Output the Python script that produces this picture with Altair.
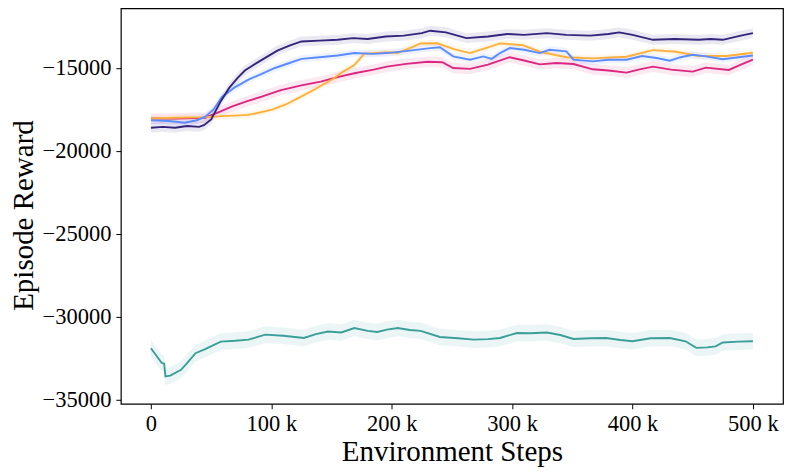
import altair as alt
import pandas as pd

# steps in thousands, mean episode reward, band half-width
purple_steps = [0, 10, 20, 30, 40, 44, 50, 58, 65, 72, 78, 90, 105, 115, 125, 140, 155, 168, 180, 195, 210, 225, 232, 245, 262, 280, 296, 310, 329, 345, 365, 380, 389, 400, 417, 435, 455, 465, 475, 490, 500]
purple_vals = [-18600, -18550, -18600, -18500, -18550, -18450, -18100, -17000, -16200, -15600, -15150, -14600, -13950, -13650, -13400, -13350, -13300, -13200, -13250, -13100, -13050, -12900, -12750, -12850, -13200, -13100, -12950, -13000, -12900, -13000, -13050, -12950, -12850, -13000, -13300, -13250, -13300, -13250, -13300, -13050, -12900]

blue_steps = [0, 15, 28, 38, 45, 52, 59, 70, 81, 92, 103, 115, 125, 140, 155, 169, 185, 196, 215, 232, 240, 251, 265, 276, 283, 290, 298, 310, 323, 331, 345, 351, 367, 380, 395, 408, 420, 431, 440, 450, 461, 475, 488, 500]
blue_vals = [-18150, -18200, -18300, -18150, -17950, -17500, -16750, -16150, -15700, -15350, -15000, -14700, -14450, -14350, -14250, -14100, -14150, -14100, -13950, -13800, -13750, -14300, -14500, -14300, -14450, -14100, -13800, -13900, -14100, -13900, -14000, -14500, -14600, -14500, -14500, -14280, -14400, -14560, -14350, -14200, -14300, -14470, -14350, -14250]

magenta_steps = [0, 20, 45, 55, 67, 80, 92, 108, 125, 141, 155, 169, 185, 196, 212, 230, 242, 251, 265, 280, 298, 310, 323, 337, 351, 367, 380, 395, 405, 417, 432, 450, 461, 480, 490, 500]
magenta_vals = [-18050, -18050, -18000, -17700, -17330, -17000, -16730, -16330, -16050, -15820, -15550, -15320, -15100, -14920, -14750, -14620, -14650, -15000, -15050, -14800, -14350, -14550, -14780, -14700, -14760, -15080, -15150, -15280, -15100, -14920, -15100, -15220, -14980, -15120, -14800, -14500]

orange_steps = [0, 20, 45, 60, 81, 100, 112, 122, 137, 152, 160, 169, 177, 196, 205, 215, 224, 238, 251, 265, 278, 290, 309, 323, 345, 367, 395, 417, 436, 455, 478, 500]
orange_vals = [-18050, -18000, -17960, -17900, -17830, -17530, -17200, -16830, -16250, -15620, -15200, -14820, -14150, -14050, -14100, -13800, -13520, -13510, -13850, -14100, -13800, -13520, -13620, -14020, -14350, -14420, -14320, -13920, -14020, -14280, -14280, -14080]

teal_steps = [0, 5, 9, 11, 12, 16, 25, 30, 37, 45, 58, 70, 81, 95, 110, 127, 137, 147, 158, 169, 180, 188, 196, 205, 215, 224, 240, 255, 268, 280, 290, 304, 315, 329, 340, 351, 365, 378, 390, 400, 415, 431, 444, 453, 462, 469, 475, 488, 500]
teal_vals = [-31900, -32400, -32790, -32830, -33600, -33550, -33200, -32800, -32200, -31950, -31500, -31450, -31380, -31080, -31150, -31280, -31050, -30890, -30950, -30680, -30850, -30920, -30780, -30680, -30800, -30850, -31220, -31300, -31380, -31350, -31280, -30980, -31000, -30950, -31100, -31340, -31300, -31280, -31400, -31480, -31300, -31280, -31480, -31880, -31850, -31790, -31550, -31500, -31480]

series_names = ["teal", "magenta", "orange", "blue", "purple"]
series_colors = ["#3a9f99", "#dc267f", "#ffb03b", "#5b8cff", "#35247c"]
band_half = [500, 320, 200, 220, 300]

x_ticks = [0, 100000, 200000, 300000, 400000, 500000]
y_ticks = [-35000, -30000, -25000, -20000, -15000]

rows = []
for name, steps, vals, hw in [
    ("teal", teal_steps, teal_vals, band_half[0]),
    ("magenta", magenta_steps, magenta_vals, band_half[1]),
    ("orange", orange_steps, orange_vals, band_half[2]),
    ("blue", blue_steps, blue_vals, band_half[3]),
    ("purple", purple_steps, purple_vals, band_half[4]),
]:
    for s, v in zip(steps, vals):
        rows.append({"series": name, "step": s * 1000, "reward": v,
                     "lo": v - hw, "hi": v + hw})
df = pd.DataFrame(rows)

color = alt.Color("series:N", scale=alt.Scale(domain=series_names, range=series_colors), legend=None)
xenc = alt.X("step:Q", scale=alt.Scale(domain=[-25000, 525000], nice=False, zero=False),
             axis=alt.Axis(values=x_ticks,
                           labelExpr="datum.value == 0 ? '0' : (datum.value / 1000) + ' k'",
                           title="Environment Steps", titleY=57, titleBaseline="alphabetic",
                           labelPadding=4))
yscale = alt.Scale(domain=[-35250, -11400], nice=False, zero=False)

bands = alt.Chart(df).mark_area(opacity=0.1, interpolate="linear").encode(
    x=xenc,
    y=alt.Y("lo:Q", scale=yscale,
            axis=alt.Axis(values=y_ticks,
                          labelExpr="replace(format(datum.value, 'd'), '-', '\u2212')",
                          title="Episode Reward", titleX=-88, titleY=207,
                          titleBaseline="alphabetic", labelPadding=5)),
    y2="hi:Q",
    color=color,
    detail="series:N",
)
lines = alt.Chart(df).mark_line(strokeWidth=1.9).encode(
    x=xenc,
    y=alt.Y("reward:Q", scale=yscale),
    color=color,
    detail="series:N",
)

chart = alt.layer(bands, lines).properties(
    width=663, height=396,
    autosize=alt.AutoSizeParams(type="none"),
    padding={"left": 113, "top": 0, "right": 2, "bottom": 66},
).configure_view(stroke="black", strokeWidth=1.2).configure_axis(
    domain=False, grid=False, ticks=True, tickSize=5, tickColor="black",
    labelFont="Liberation Serif", labelFontSize=22.5, labelColor="black",
    titleFont="Liberation Serif", titleFontSize=29, titleColor="black", titleFontWeight="normal",
)

chart.save("out.html", embed_options={"renderer": "svg", "actions": False})
